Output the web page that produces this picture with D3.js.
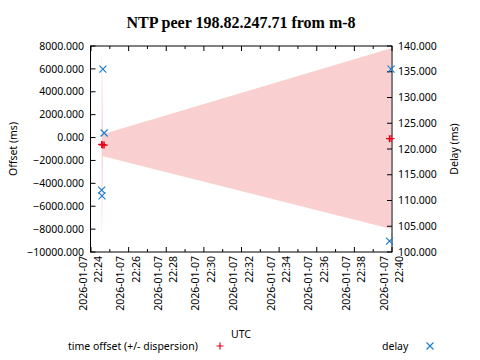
<!DOCTYPE html>
<html><head><meta charset="utf-8">
<script src="https://cdn.jsdelivr.net/npm/d3@7"></script>
<style>body{margin:0;background:#fff}svg{display:block}text{font-family:"Noto Sans",sans-serif}</style>
</head><body><svg id="c" width="480" height="360"></svg>
<script>
// Samples
const times = ["2026-01-07T22:24:34","2026-01-07T22:24:35","2026-01-07T22:24:38","2026-01-07T22:24:42","2026-01-07T22:39:52","2026-01-07T22:39:57"];
const offsets = [-600, -620, -640, -660, -100, -85];
const dispersions = [7700, 7700, 1000, 1000, 7850, 7865];
const delays = [112.0, 110.9, 135.5, 123.1, 102.1, 135.5];
const yTicks = [8000, 6000, 4000, 2000, 0, -2000, -4000, -6000, -8000, -10000];
const y2Ticks = [140, 135, 130, 125, 120, 115, 110, 105, 100];
const xRange = ["2026-01-07T22:24:00", "2026-01-07T22:40:00"];

const parse = d3.utcParse("%Y-%m-%dT%H:%M:%S");
const data = times.map((t, i) => ({t: parse(t), o: offsets[i], d: dispersions[i], dl: delays[i]}));
const svg = d3.select("#c");
const L = 90.5, R = 392, T = 46, B = 252;

const x = d3.scaleUtc().domain(xRange.map(parse)).range([91, 392]);
const y = d3.scaleLinear().domain([-10000, 8000]).range([B, T]);
const y2 = d3.scaleLinear().domain([100, 140]).range([B, T]);

svg.append("defs").append("clipPath").attr("id","clip").append("rect")
  .attr("x", L).attr("y", T).attr("width", R - L).attr("height", B - T);

// Dispersion band
const area = d3.area().x(d => x(d.t)).y0(d => y(d.o - d.d)).y1(d => y(d.o + d.d));
svg.append("path").datum(data).attr("d", area).attr("fill", "#f9cfcf")
  .attr("clip-path", "url(#clip)");

// Title
svg.append("text").attr("x", 241).attr("y", 28).attr("text-anchor", "middle")
  .style("font-family", "'Liberation Serif',serif").style("font-weight", "bold").style("font-size", "16px")
  .text("NTP peer 198.82.247.71 from m-8");

const fs = "10.5px";
// Left axis
const gl = svg.append("g");
yTicks.forEach(v => {
  gl.append("line").attr("x1", L).attr("x2", L + 5).attr("y1", y(v)).attr("y2", y(v)).attr("stroke", "#000");
  gl.append("text").attr("x", 84).attr("y", y(v)).attr("dy", "0.35em").attr("text-anchor", "end")
    .style("font-size", fs).text(d3.format(".3f")(v));
});
// Right axis
y2Ticks.forEach(v => {
  gl.append("line").attr("x1", R - 5).attr("x2", R).attr("y1", y2(v)).attr("y2", y2(v)).attr("stroke", "#000");
  gl.append("text").attr("x", 398).attr("y", y2(v)).attr("dy", "0.35em").attr("text-anchor", "start")
    .style("font-size", fs).text(d3.format(".3f")(v));
});
// X ticks
const minor = d3.utcMinute.every(1).range(x.domain()[0], d3.utcMinute.offset(x.domain()[1], 1));
minor.forEach(t => {
  const isMajor = t.getUTCMinutes() % 2 === 0;
  const len = isMajor ? 5 : 3;
  gl.append("line").attr("x1", x(t)).attr("x2", x(t)).attr("y1", B).attr("y2", B - len).attr("stroke", "#000");
  gl.append("line").attr("x1", x(t)).attr("x2", x(t)).attr("y1", T).attr("y2", T + len).attr("stroke", "#000");
  if (isMajor) {
    const g = gl.append("g").attr("transform", `translate(${x(t)},256) rotate(-90)`);
    const tx = g.append("text").attr("text-anchor", "end").style("font-size", fs);
    tx.append("tspan").attr("x", 0).attr("y", -4.5).text(d3.utcFormat("%Y-%m-%d")(t));
    tx.append("tspan").attr("x", 0).attr("y", 11).text(d3.utcFormat("%H:%M")(t));
  }
});

// Border
svg.append("rect").attr("x", L).attr("y", T).attr("width", R - L).attr("height", B - T)
  .attr("fill", "none").attr("stroke", "#000");

// Axis titles
svg.append("text").attr("transform", "translate(17,149) rotate(-90)").attr("text-anchor", "middle")
  .style("font-size", fs).text("Offset (ms)");
svg.append("text").attr("transform", "translate(458,149) rotate(-90)").attr("text-anchor", "middle")
  .style("font-size", fs).text("Delay (ms)");
svg.append("text").attr("x", 241).attr("y", 338).attr("text-anchor", "middle")
  .style("font-size", fs).text("UTC");

const red = "#e8001a", blue = "#1a7fd0";
function plus(g, cx, cy, s, c) {
  g.append("path").attr("d", `M${cx - s},${cy}H${cx + s}M${cx},${cy - s}V${cy + s}`).attr("stroke", c).attr("stroke-width", 1.2).attr("fill", "none");
}
function cross(g, cx, cy, s, c) {
  g.append("path").attr("d", `M${cx - s},${cy - s}L${cx + s},${cy + s}M${cx - s},${cy + s}L${cx + s},${cy - s}`).attr("stroke", c).attr("stroke-width", 1.2).attr("fill", "none");
}
const gp = svg.append("g");
data.forEach(d => plus(gp, x(d.t), y(d.o), 3.5, red));
data.forEach(d => cross(gp, x(d.t), y2(d.dl), 3.5, blue));

// Legend
svg.append("text").attr("x", 68).attr("y", 350).style("font-size", fs).text("time offset (+/- dispersion)");
plus(svg, 220, 346, 3.5, red);
svg.append("text").attr("x", 382).attr("y", 350).style("font-size", fs).text("delay");
cross(svg, 430, 346, 3.5, blue);
</script></body></html>
